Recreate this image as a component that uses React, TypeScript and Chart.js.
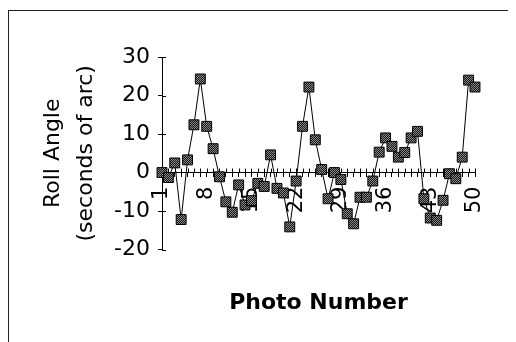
import React, { useEffect, useRef } from "react";
import { Chart, registerables } from "chart.js";

Chart.register(...registerables);

const photoNumbers: string[] = Array.from({ length: 50 }, (_, i) => String(i + 1));
const rollAngle: number[] = [
  0, -1.3, 2.5, -12.2, 3.3, 12.4, 24.3, 12, 6.2, -1.1,
  -7.6, -10.3, -3.2, -8.4, -7.3, -2.8, -3.6, 4.6, -4.1, -5.3,
  -14.1, -2.2, 12, 22.2, 8.5, 0.8, -6.8, 0, -1.8, -10.7,
  -13.3, -6.4, -6.4, -2.2, 5.3, 9, 6.8, 4, 5.2, 9,
  10.7, -6.8, -11.8, -12.4, -7.2, -0.3, -1.6, 4, 24, 22.2,
];
const shownXLabels: string[] = ["1", "8", "15", "22", "29", "36", "43", "50"];
const yTitle: string[] = ["Roll Angle", "(seconds of arc)"];
const xTitle = "Photo Number";

const crossTicks = {
  id: "crossTicks",
  beforeDatasetsDraw(chart: any) {
    const { ctx } = chart;
    const xs = chart.scales.x;
    const ys = chart.scales.y;
    const y0 = ys.getPixelForValue(0);
    const x0 = chart.chartArea.left;
    ctx.save();
    ctx.strokeStyle = "#000";
    ctx.lineWidth = 1;
    ctx.beginPath();
    for (let i = 0; i < xs.ticks.length; i++) {
      const px = Math.round(xs.getPixelForTick(i)) + 0.5;
      ctx.moveTo(px, y0 - 4);
      ctx.lineTo(px, y0);
    }
    for (let i = 0; i < ys.ticks.length; i++) {
      const py = Math.round(ys.getPixelForTick(i)) + 0.5;
      ctx.moveTo(x0, py);
      ctx.lineTo(x0 + 4, py);
    }
    ctx.stroke();
    ctx.restore();
  },
};

export default function App() {
  const ref = useRef<HTMLCanvasElement>(null);
  useEffect(() => {
    if (!ref.current) return;
    const pc = document.createElement("canvas");
    pc.width = 2;
    pc.height = 2;
    const pctx = pc.getContext("2d")!;
    pctx.fillStyle = "#151515";
    pctx.fillRect(0, 0, 2, 2);
    pctx.fillStyle = "#8a8a8a";
    pctx.fillRect(0, 0, 1, 1);
    pctx.fillRect(1, 1, 1, 1);
    const pattern = ref.current.getContext("2d")!.createPattern(pc, "repeat");

    const chart = new Chart(ref.current, {
      type: "line",
      data: {
        labels: photoNumbers,
        datasets: [
          {
            data: rollAngle,
            borderColor: "#000",
            borderWidth: 1,
            pointStyle: "rect",
            pointRadius: 7,
            pointBackgroundColor: pattern as any,
            pointBorderColor: "#000",
            pointBorderWidth: 1,
            tension: 0,
          },
        ],
      },
      plugins: [crossTicks],
      options: {
        animation: false,
        responsive: false,
        devicePixelRatio: 1,
        layout: { padding: { top: 49, right: 41, left: 0, bottom: 0 } },
        plugins: {
          legend: { display: false },
          tooltip: { enabled: false },
          title: {
            display: true,
            text: xTitle,
            position: "bottom",
            fullSize: false,
            color: "#000",
            font: { family: "DejaVu Sans", size: 22, weight: "bold", lineHeight: 1.2 },
            padding: { top: 40, bottom: 26 },
          },
        },
        scales: {
          x: {
            type: "category",
            position: { y: 0 } as any,
            offset: false,
            grid: { display: true, drawOnChartArea: false, tickLength: 4, color: "#000" },
            border: { display: true, color: "#000", width: 1 },
            ticks: {
              autoSkip: false,
              minRotation: 90,
              maxRotation: 90,
              padding: 10,
              color: "#000",
              font: { family: "DejaVu Sans", size: 21 },
              callback: (_v: any, i: number) =>
                shownXLabels.includes(photoNumbers[i]) ? photoNumbers[i] : "",
            },
          },
          y: {
            min: -20,
            max: 30,
            grid: { display: true, drawOnChartArea: false, tickLength: 4, color: "#000" },
            border: { display: true, color: "#000", width: 1 },
            ticks: {
              stepSize: 10,
              padding: 8,
              color: "#000",
              font: { family: "DejaVu Sans", size: 22 },
            },
            title: {
              display: true,
              text: yTitle,
              color: "#000",
              font: { family: "DejaVu Sans", size: 22, lineHeight: 1.5 },
              padding: { top: 29, bottom: 0 },
            },
            afterFit: (scale: any) => {
              scale.width = 154;
            },
          },
        },
      },
    });
    return () => chart.destroy();
  }, []);

  return (
    <div style={{ position: "relative", width: 508, height: 334 }}>
      <div
        style={{
          position: "absolute",
          left: 0,
          top: 2,
          right: 0,
          bottom: 0,
          borderTop: "1px solid #222",
          borderLeft: "1px solid #222",
        }}
      />
      <canvas
        ref={ref}
        width={508}
        height={334}
        style={{ position: "absolute", left: 0, top: 0, width: 508, height: 334 }}
      />
    </div>
  );
}
